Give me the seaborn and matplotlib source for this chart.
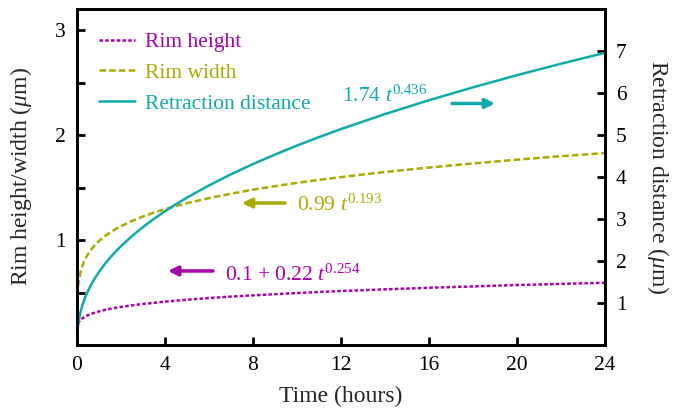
import matplotlib
matplotlib.use("Agg")
import matplotlib.pyplot as plt
import seaborn as sns
import pandas as pd

# ---- data ----
time_retraction = [0, 0.01, 0.02, 0.03, 0.05, 0.07, 0.1, 0.15, 0.2, 0.3, 0.35, 0.4, 0.5, 0.6,
                   0.75, 0.85, 1, 1.25, 1.5, 1.75, 2, 2.5, 3, 3.5, 4, 4.5, 5, 6, 7, 8, 9, 10,
                   11, 12, 14, 16, 18, 20, 22, 24]
retraction = [0, 0.234, 0.316, 0.377, 0.471, 0.546, 0.638, 0.761, 0.863, 1.029, 1.101, 1.167,
              1.287, 1.393, 1.535, 1.621, 1.74, 1.918, 2.076, 2.221, 2.354, 2.594, 2.809,
              3.004, 3.184, 3.352, 3.510, 3.800, 4.065, 4.308, 4.535, 4.748, 4.950, 5.141,
              5.499, 5.828, 6.135, 6.424, 6.697, 6.956]

time_width = [0.02, 0.03, 0.05, 0.07, 0.1, 0.15, 0.2, 0.3, 0.35, 0.4, 0.5, 0.6,
              0.75, 0.85, 1, 1.25, 1.5, 1.75, 2, 2.5, 3, 3.5, 4, 4.5, 5, 6, 7, 8, 9, 10,
              11, 12, 14, 16, 18, 20, 22, 24]
rim_width = [0.465, 0.503, 0.555, 0.593, 0.635, 0.686, 0.725, 0.785, 0.808, 0.830, 0.866,
             0.897, 0.937, 0.959, 0.99, 1.034, 1.071, 1.103, 1.132, 1.181, 1.224, 1.261,
             1.294, 1.323, 1.351, 1.399, 1.441, 1.479, 1.513, 1.544, 1.573, 1.599, 1.648,
             1.690, 1.729, 1.765, 1.798, 1.828]

time_height = [0.05, 0.07, 0.1, 0.15, 0.2, 0.3, 0.35, 0.4, 0.5, 0.6,
               0.75, 0.85, 1, 1.25, 1.5, 1.75, 2, 2.5, 3, 3.5, 4, 4.5, 5, 6, 7, 8, 9, 10,
               11, 12, 14, 16, 18, 20, 22, 24]
rim_height = [0.203, 0.212, 0.223, 0.236, 0.246, 0.262, 0.269, 0.274, 0.285, 0.293, 0.304,
              0.311, 0.32, 0.333, 0.344, 0.354, 0.362, 0.378, 0.391, 0.402, 0.413, 0.422,
              0.431, 0.447, 0.461, 0.473, 0.484, 0.495, 0.505, 0.514, 0.530, 0.545, 0.558,
              0.571, 0.582, 0.593]

series_labels = ["Rim height", "Rim width", "Retraction distance"]
fit_labels = [r"0.1 + 0.22 $t^{0.254}$", r"0.99 $t^{0.193}$", r"1.74 $t^{0.436}$"]
x_ticks = [0, 4, 8, 12, 16, 20, 24]
left_ticks = [0.5, 1, 1.5, 2, 2.5, 3]
right_ticks = [1, 2, 3, 4, 5, 6, 7]

C_MAG = "#aa00aa"
C_OLI = "#aaaa00"
C_CYA = "#11aaaa"

sns.set_theme(style="ticks")
plt.rcParams["font.family"] = ["Liberation Serif", "DejaVu Serif"]
plt.rcParams["mathtext.fontset"] = "custom"
plt.rcParams["mathtext.rm"] = "Liberation Serif"
plt.rcParams["mathtext.it"] = "Liberation Serif:italic"
plt.rcParams["mathtext.default"] = "it"

FS = 15.5
FL = 17

fig = plt.figure(figsize=(6.76, 4.08), dpi=100)
ax = fig.add_axes([77 / 676, 1 - 345 / 408, 528 / 676, 336 / 408])
ax2 = ax.twinx()

df_h = pd.DataFrame({"t": time_height, "v": rim_height})
df_w = pd.DataFrame({"t": time_width, "v": rim_width})
df_r = pd.DataFrame({"t": time_retraction, "v": retraction})

LW = 1.8
sns.lineplot(data=df_h, x="t", y="v", ax=ax, color=C_MAG, lw=LW, legend=False)
lh = ax.lines[-1]
lh.set_dashes([1.4, 0.9])
sns.lineplot(data=df_w, x="t", y="v", ax=ax, color=C_OLI, lw=LW, legend=False)
lw_ = ax.lines[-1]
lw_.set_dashes([2.6, 1.3])
sns.lineplot(data=df_r, x="t", y="v", ax=ax2, color=C_CYA, lw=LW, legend=False)
lr = ax2.lines[-1]

ax.set_xlim(0, 24)
ax.set_ylim(0, 3.2)
ax2.set_ylim(0, 8.0)

ax.set_xticks(x_ticks)
ax.set_xticklabels([str(v) for v in x_ticks], fontsize=FS)
ax.set_yticks(left_ticks)
ax.set_yticklabels(["" if v != int(v) else str(int(v)) for v in left_ticks], fontsize=FS)
ax2.set_yticks(right_ticks)
ax2.set_yticklabels([str(v) for v in right_ticks], fontsize=FS)

for a in (ax, ax2):
    for s in a.spines.values():
        s.set_linewidth(2.0)
        s.set_color("black")
ax.tick_params(axis="both", direction="in", length=6, width=2, pad=8, colors="black",
               top=False, right=False)
ax2.tick_params(axis="y", direction="in", length=6, width=2, pad=8, colors="black")

ax.set_xlabel("Time (hours)", fontsize=FL, labelpad=8)
ax.set_ylabel(r"Rim height/width ($\mu$m)", fontsize=FL, labelpad=15)
ax2.set_ylabel(r"Retraction distance ($\mu$m)", fontsize=FL, rotation=270, labelpad=32)

leg = ax.legend([lh, lw_, lr], series_labels, loc="upper left", frameon=False,
                fontsize=FS, handlelength=1.63, handletextpad=0.5, labelspacing=0.5,
                bbox_to_anchor=(0.018, 0.97), borderaxespad=0.2)
for txt, c in zip(leg.get_texts(), [C_MAG, C_OLI, C_CYA]):
    txt.set_color(c)

# fit annotations (left-axis data coordinates)
ax.text(6.73, 0.61, fit_labels[0], color=C_MAG, fontsize=FS, va="baseline")
ax.annotate("", xy=(4.14, 0.705), xytext=(6.18, 0.705),
            arrowprops=dict(arrowstyle="-|>", color=C_MAG, lw=2.5, mutation_scale=14,
                            shrinkA=0, shrinkB=0))
ax.text(10.0, 1.276, fit_labels[1], color=C_OLI, fontsize=FS, va="baseline")
ax.annotate("", xy=(7.5, 1.352), xytext=(9.45, 1.352),
            arrowprops=dict(arrowstyle="-|>", color=C_OLI, lw=2.5, mutation_scale=14,
                            shrinkA=0, shrinkB=0))
ax.text(12.05, 2.32, fit_labels[2], color=C_CYA, fontsize=FS, va="baseline")
ax.annotate("", xy=(19.0, 2.30), xytext=(17.05, 2.30),
            arrowprops=dict(arrowstyle="-|>", color=C_CYA, lw=2.5, mutation_scale=14,
                            shrinkA=0, shrinkB=0))

fig.savefig("out.png", dpi=100)
